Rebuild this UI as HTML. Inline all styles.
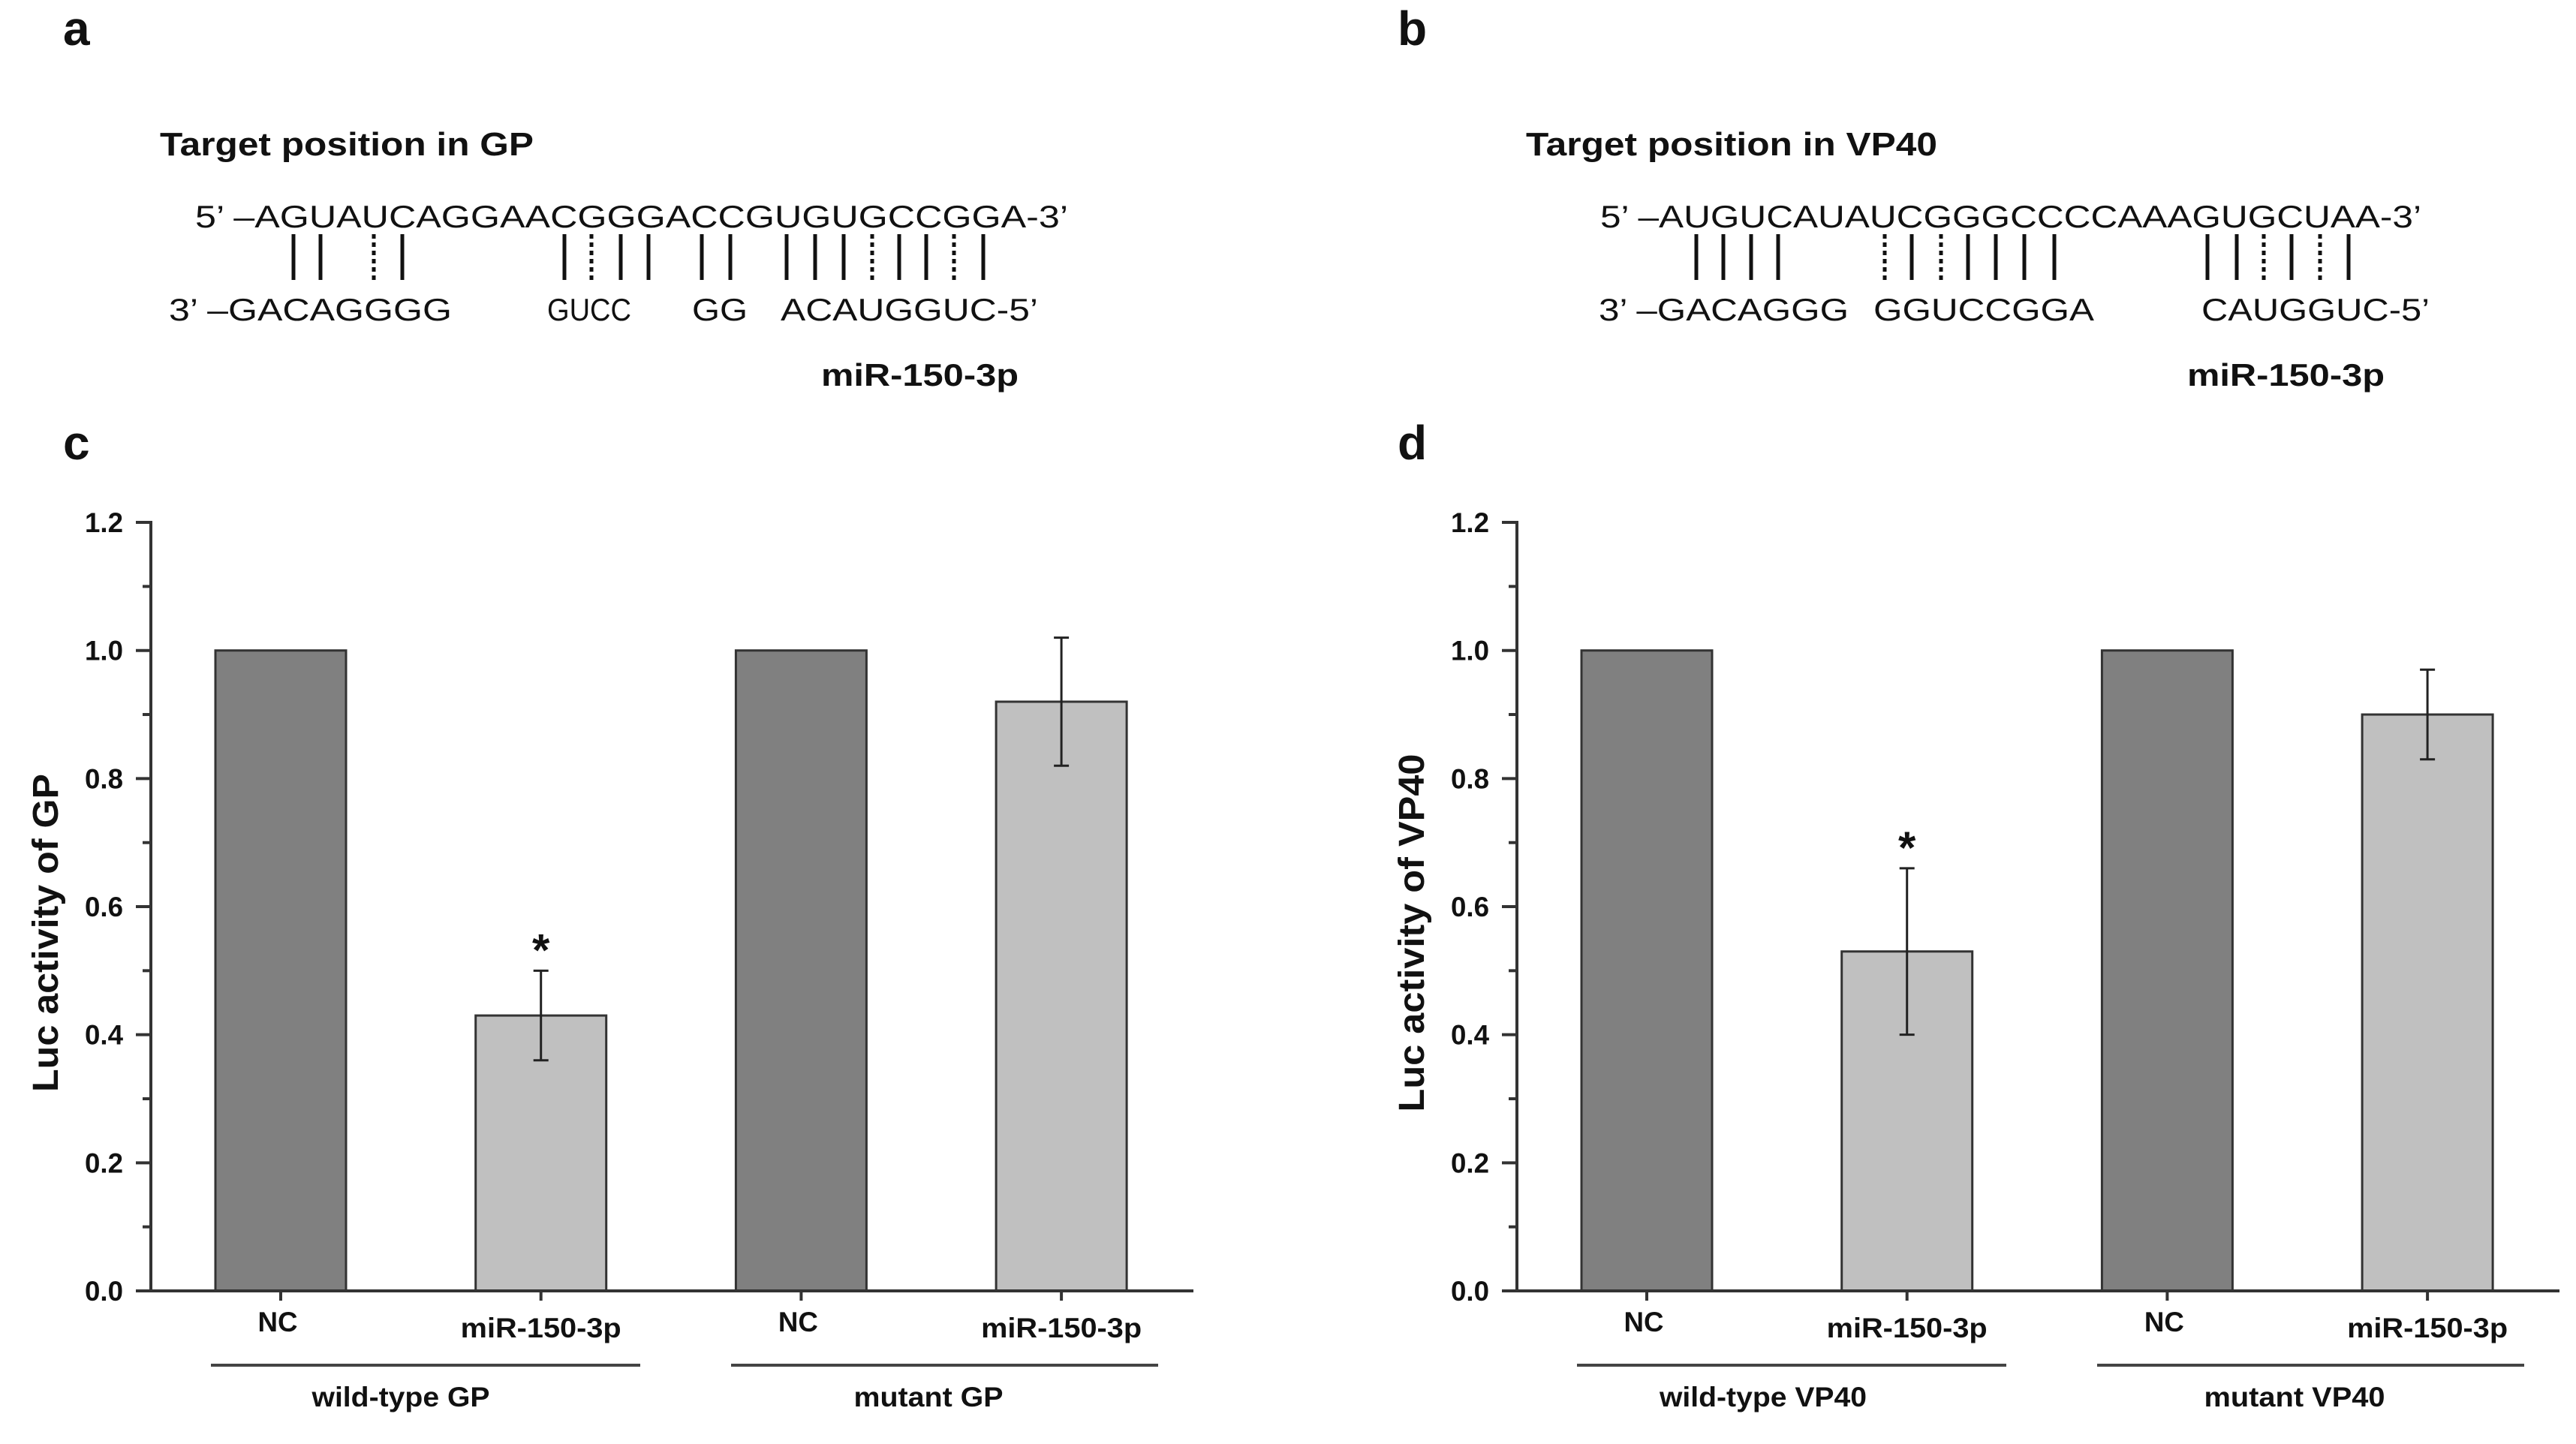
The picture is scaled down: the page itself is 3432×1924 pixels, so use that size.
<!DOCTYPE html>
<html><head><meta charset="utf-8">
<style>
html,body{margin:0;padding:0;background:#fff;}
svg{display:block;}
text{font-family:"Liberation Sans",Arial,sans-serif;fill:#111;}
</style></head>
<body>
<svg id="fig" width="3432" height="1924" viewBox="0 0 3432 1924" xmlns="http://www.w3.org/2000/svg">
<rect x="0" y="0" width="3432" height="1924" fill="#fff"/>
<text x="84" y="60" font-size="64" font-weight="bold">a</text>
<text x="1862" y="60" font-size="64" font-weight="bold">b</text>
<text x="84" y="612" font-size="64" font-weight="bold">c</text>
<text x="1862" y="612" font-size="64" font-weight="bold">d</text>

<g>
<text x="213" y="207" font-size="44" font-weight="bold" textLength="498" lengthAdjust="spacingAndGlyphs">Target position in GP</text>
<text x="260" y="303" font-size="42" textLength="1163" lengthAdjust="spacingAndGlyphs">5’ –AGUAUCAGGAACGGGACCGUGUGCCGGA-3’</text>
<text x="225" y="427" font-size="42" textLength="377" lengthAdjust="spacingAndGlyphs">3’ –GACAGGGG</text>
<text x="729" y="427" font-size="42" textLength="112" lengthAdjust="spacingAndGlyphs">GUCC</text>
<text x="922" y="427" font-size="42" textLength="74" lengthAdjust="spacingAndGlyphs">GG</text>
<text x="1040" y="427" font-size="42" textLength="343" lengthAdjust="spacingAndGlyphs">ACAUGGUC-5’</text>
<g id="pairsA"></g>
<text x="1094" y="514" font-size="42" font-weight="bold" textLength="263" lengthAdjust="spacingAndGlyphs">miR-150-3p</text>
</g>

<g>
<text x="2033" y="207" font-size="44" font-weight="bold" textLength="548" lengthAdjust="spacingAndGlyphs">Target position in VP40</text>
<text x="2132" y="303" font-size="42" textLength="1094" lengthAdjust="spacingAndGlyphs">5’ –AUGUCAUAUCGGGCCCCAAAGUGCUAA-3’</text>
<text x="2130" y="427" font-size="42" textLength="333" lengthAdjust="spacingAndGlyphs">3’ –GACAGGG</text>
<text x="2496" y="427" font-size="42" textLength="294" lengthAdjust="spacingAndGlyphs">GGUCCGGA</text>
<text x="2933" y="427" font-size="42" textLength="304" lengthAdjust="spacingAndGlyphs">CAUGGUC-5’</text>
<g id="pairsB"></g>
<text x="2914" y="514" font-size="42" font-weight="bold" textLength="263" lengthAdjust="spacingAndGlyphs">miR-150-3p</text>
</g>

<g id="chartC"></g>
<g id="chartD"></g>
</svg>
<script>
const NS = "http://www.w3.org/2000/svg";
const pairsAX = [391,427,498,536,752,788,827,864,935,973,1048,1086,1124,1162,1198,1234,1271,1310];
const pairsADot = [0,0,1,0,0,1,0,0,0,0,0,0,0,1,0,0,1,0];
const pairsBX = [2260,2296,2333,2369,2511,2547,2586,2622,2659,2697,2737,2941,2980,3016,3053,3091,3129];
const pairsBDot = [0,0,0,0,1,0,1,0,0,0,0,0,0,1,0,1,0];

const categories = ["NC","miR-150-3p","NC","miR-150-3p"];
const groupsC = ["wild-type GP","mutant GP"];
const groupsD = ["wild-type VP40","mutant VP40"];
const valuesC = [1.0, 0.43, 1.0, 0.92];
const errorsC = [0, 0.07, 0, 0.10];
const valuesD = [1.0, 0.53, 1.0, 0.90];
const errorsD = [0, 0.13, 0, 0.07];
const sigC = [false, true, false, false];
const sigD = [false, true, false, false];
const yTicks = [0.0, 0.2, 0.4, 0.6, 0.8, 1.0, 1.2];
const yTickLabels = ["0.0","0.2","0.4","0.6","0.8","1.0","1.2"];
const yTitleC = "Luc activity of GP";
const yTitleD = "Luc activity of VP40";

function el(tag, attrs, parent){ const e=document.createElementNS(NS,tag); for(const k in attrs) e.setAttribute(k,attrs[k]); parent.appendChild(e); return e; }

function drawPairs(gid, xs, dots){
  const g=document.getElementById(gid);
  xs.forEach((x,i)=>{
    const l=el('line',{x1:x,x2:x,y1:312,y2:373,stroke:'#111','stroke-width':5},g);
    if(dots[i]) l.setAttribute('stroke-dasharray','6 5');
    
    
  });
}
drawPairs('pairsA', pairsAX, pairsADot);
drawPairs('pairsB', pairsBX, pairsBDot);

function drawChart(gid, dx, vals, errs, sig, groups, ytitle, titleLen, groupX, groupW){
  const g=document.getElementById(gid);
  const y0=1720, pxPerUnit=853.3;
  const yS=v=>y0 - v*pxPerUnit;
  const xS=i=>dx + 374 + i*346.7;
  const axX=dx+201, axEnd=dx+1590;
  const barW=174;
  vals.forEach((v,i)=>{
    const r=el('rect',{x:xS(i)-barW/2,y:yS(v),width:barW,height:y0-yS(v),fill:(i%2===0)?'#808080':'#c0c0c0',stroke:'#333','stroke-width':3},g);
    
    
  });
  vals.forEach((v,i)=>{
    if(!errs[i]) return;
    const eg=el('g',{stroke:'#222','stroke-width':3},g);
    
    
    const x=xS(i), t=yS(v+errs[i]), b=yS(v-errs[i]);
    el('line',{x1:x,x2:x,y1:t,y2:b},eg);
    el('line',{x1:x-10,x2:x+10,y1:t,y2:t},eg);
    el('line',{x1:x-10,x2:x+10,y1:b,y2:b},eg);
    if(sig[i]){
      const s=el('text',{x:x,y:t-7,'font-size':60,'font-weight':'bold','text-anchor':'middle'},g);
      s.textContent='*';
      
      
    }
  });
  const ax=el('g',{stroke:'#333','stroke-width':4},g);
  
  
  el('line',{x1:axX,x2:axX,y1:yS(1.2)-2,y2:y0+2},ax);
  el('line',{x1:axX,x2:axEnd,y1:y0,y2:y0},ax);
  for(let k=1;k<12;k+=2){ el('line',{x1:axX-11,x2:axX,y1:yS(k/10),y2:yS(k/10)},ax); }
  yTicks.forEach((t,i)=>{
    el('line',{x1:axX-20,x2:axX,y1:yS(t),y2:yS(t)},ax);
    const tl=el('text',{x:axX-37,y:yS(t)+13,'font-size':37,'font-weight':'bold','text-anchor':'end',textLength:51,lengthAdjust:'spacingAndGlyphs'},g);
    tl.textContent=yTickLabels[i];
    
    
  });
  categories.forEach((c,i)=>{
    el('line',{x1:xS(i),x2:xS(i),y1:y0,y2:y0+13},ax);
    const isNC=c==='NC';
    const tl=el('text',{x:xS(i)-(isNC?4:0),y:isNC?1774:1782,'font-size':37,'font-weight':'bold','text-anchor':'middle',textLength:isNC?53:214,lengthAdjust:'spacingAndGlyphs'},g);
    tl.textContent=c;
    
    
  });
  const gl=el('g',{stroke:'#444','stroke-width':4},g);
  
  
  [[281,853],[974,1543]].forEach(([a,b])=>el('line',{x1:dx+a,x2:dx+b,y1:1819,y2:1819},gl));
  groups.forEach((t,i)=>{
    const tx=el('text',{x:groupX[i],y:1874,'font-size':37,'font-weight':'bold','text-anchor':'middle',textLength:groupW[i],lengthAdjust:'spacingAndGlyphs'},g);
    tx.textContent=t;
    
    
  });
  const yt=el('text',{x:0,y:0,'font-size':48,'font-weight':'bold','text-anchor':'middle',textLength:titleLen,lengthAdjust:'spacingAndGlyphs',transform:'translate('+(dx+77)+',1243) rotate(-90)'},g);
  yt.textContent=ytitle;
  
  
}
drawChart('chartC', 0, valuesC, errorsC, sigC, groupsC, yTitleC, 424, [534,1237], [237,199]);
drawChart('chartD', 1820, valuesD, errorsD, sigD, groupsD, yTitleD, 477, [2349,3057], [276,241]);
</script>
</body></html>
